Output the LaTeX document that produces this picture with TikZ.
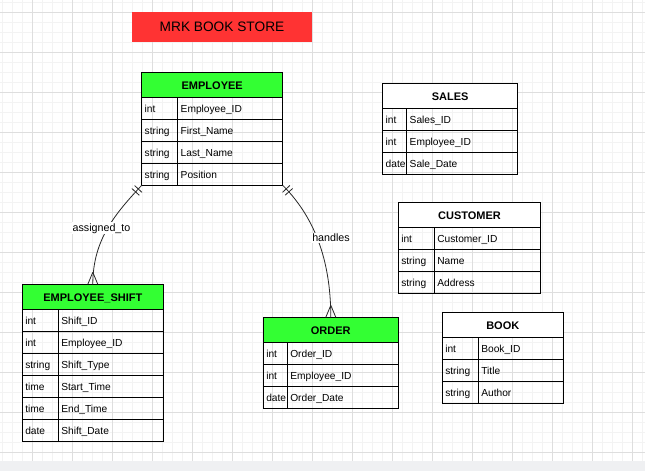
\documentclass[tikz,border=0pt]{standalone}
\usepackage{fontspec}
\setmainfont{Liberation Sans}
\usetikzlibrary{calc,positioning,decorations.markings}
\definecolor{lineColor}{RGB}{0,0,0}
\definecolor{edgeColor}{RGB}{40,40,40}
\definecolor{headGreen}{RGB}{51,255,51}
\definecolor{titleRed}{RGB}{255,51,51}
\definecolor{gridMajor}{RGB}{222,222,222}
\definecolor{gridMinor}{RGB}{243,243,243}
\definecolor{stripGray}{RGB}{239,240,242}

\begin{document}
\begin{tikzpicture}[
  x=1pt, y=1pt,
  font=\fontsize{10.2}{12}\selectfont,
  head/.style={draw=lineColor, line width=1pt, minimum height=25pt, inner sep=0pt, outer sep=0pt, text height=9.5pt, text depth=0pt, anchor=north west, font=\fontsize{11}{13}\selectfont\bfseries},
  cell/.style={draw=lineColor, line width=1pt, minimum height=22pt, inner xsep=3pt, inner ysep=0pt, outer sep=0pt, align=left, text height=9.2pt, text depth=0.5pt, anchor=north west},
  banner/.style={fill=titleRed, minimum width=180pt, minimum height=30pt, font=\fontsize{13.7}{16}\selectfont},
  rellabel/.style={fill=white, inner sep=1pt, font=\fontsize{10.7}{12}\selectfont},
  rel/.style={draw=edgeColor, line width=0.8pt, postaction={decorate}, decoration={markings,
    mark=at position 5pt with {\draw[edgeColor, line width=0.8pt] (0pt,-5pt) -- (0pt,5pt);},
    mark=at position 9pt with {\draw[edgeColor, line width=0.8pt] (0pt,-5pt) -- (0pt,5pt);},
    mark=at position 1 with {\draw[edgeColor, line width=0.8pt] (-12pt,0pt) -- (0pt,5pt) (-12pt,0pt) -- (0pt,-5pt);}}}
]
\useasboundingbox (0,0) rectangle (645,-471);

% Background grid
\fill[white] (0,0) rectangle (645,-471);
\foreach \x in {2,12,...,642} \draw[gridMinor, line width=1pt] (\x,0) -- (\x,-461);
\foreach \y in {2,12,...,452} \draw[gridMinor, line width=1pt] (0,-\y) -- (645,-\y);
\foreach \x in {32,72,...,632} \draw[gridMajor, line width=1pt] (\x,0) -- (\x,-461);
\foreach \y in {12,52,...,452} \draw[gridMajor, line width=1pt] (0,-\y) -- (645,-\y);
\fill[stripGray] (0,-461) rectangle (645,-471);

% Title
\node[banner] (title) at (222,-27) {MRK BOOK STORE};

% Employee
\node[head, fill=headGreen, minimum width=141pt] (emp) at (141.7,-72.3) {EMPLOYEE};
\foreach \t/\n [count=\i] in {int/Employee\_ID, string/First\_Name, string/Last\_Name, string/Position} {
  \node[cell, text width=30pt] (emp-t\i) at ($(emp.south west)+(0,{22-22*\i})$) {\t};
  \node[cell, text width=99pt] (emp-n\i) at (emp-t\i.north east) {\n};
}

% Employee shift
\node[head, fill=headGreen, minimum width=141pt] (eshift) at (22.3,-284.3) {EMPLOYEE\_SHIFT};
\foreach \t/\n [count=\i] in {int/Shift\_ID, int/Employee\_ID, string/Shift\_Type, time/Start\_Time, time/End\_Time, date/Shift\_Date} {
  \node[cell, text width=30pt] (eshift-t\i) at ($(eshift.south west)+(0,{22-22*\i})$) {\t};
  \node[cell, text width=99pt] (eshift-n\i) at (eshift-t\i.north east) {\n};
}

% Order
\node[head, fill=headGreen, minimum width=135pt] (ord) at (263.3,-317.3) {ORDER};
\foreach \t/\n [count=\i] in {int/Order\_ID, int/Employee\_ID, date/Order\_Date} {
  \node[cell, text width=18pt] (ord-t\i) at ($(ord.south west)+(0,{22-22*\i})$) {\t};
  \node[cell, text width=105pt] (ord-n\i) at (ord-t\i.north east) {\n};
}

% Sales
\node[head, fill=white, minimum width=135pt] (sales) at (382.7,-83.3) {SALES};
\foreach \t/\n [count=\i] in {int/Sales\_ID, int/Employee\_ID, date/Sale\_Date} {
  \node[cell, text width=18pt] (sales-t\i) at ($(sales.south west)+(0,{22-22*\i})$) {\t};
  \node[cell, text width=105pt] (sales-n\i) at (sales-t\i.north east) {\n};
}

% Customer
\node[head, fill=white, minimum width=142.4pt] (cust) at (398.3,-202.3) {CUSTOMER};
\foreach \t/\n [count=\i] in {int/Customer\_ID, string/Name, string/Address} {
  \node[cell, text width=30pt] (cust-t\i) at ($(cust.south west)+(0,{22-22*\i})$) {\t};
  \node[cell, text width=100.4pt] (cust-n\i) at (cust-t\i.north east) {\n};
}

% Book
\node[head, fill=white, minimum width=121pt] (book) at (442.3,-312.3) {BOOK};
\foreach \t/\n [count=\i] in {int/Book\_ID, string/Title, string/Author} {
  \node[cell, text width=30pt] (book-t\i) at ($(book.south west)+(0,{22-22*\i})$) {\t};
  \node[cell, text width=79pt] (book-n\i) at (book-t\i.north east) {\n};
}

% Relations
\draw[rel] (emp-t4.south west) .. controls +(-26,-28) and +(0,45) .. (eshift.north)
  node[rellabel, pos=0.5, xshift=-6pt] {assigned\_to};
\draw[rel] (emp-n4.south east) .. controls +(30,-30) and +(0,60) .. (ord.north)
  node[rellabel, pos=0.5, xshift=13pt, yshift=2pt] {handles};

\end{tikzpicture}
\end{document}
